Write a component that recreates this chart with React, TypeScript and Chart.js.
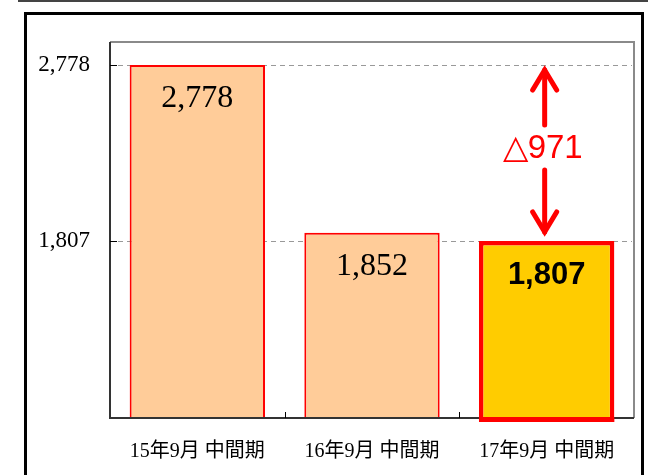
import React, { useEffect, useRef } from "react";
import { Chart, registerables } from "chart.js";
Chart.register(...registerables);

const categories = ["15年9月 中間期", "16年9月 中間期", "17年9月 中間期"];
const values = [2778, 1852, 1807];
const valueLabels = ["2,778", "1,852", "1,807"];
const yTicks = [1807, 2778];
const yTickLabels: Record<number, string> = { 1807: "1,807", 2778: "2,778" };
const diffLabel = "△971";
const axisMin = 830;
const axisMax = 2905;
const fills = ["#FFCC99", "#FFCC99", "#FFCC00"];
const borderWidths = [2, 2, 4.5];

const decor = {
  id: "decor",
  beforeDraw(chart: any) {
    const ctx = chart.ctx;
    ctx.save();
    ctx.fillStyle = "#fff";
    ctx.fillRect(0, 0, chart.width, chart.height);
    ctx.strokeStyle = "#444";
    ctx.lineWidth = 2;
    ctx.beginPath();
    ctx.moveTo(18, 1);
    ctx.lineTo(648, 1);
    ctx.stroke();
    ctx.strokeStyle = "#000";
    ctx.lineWidth = 3;
    ctx.beginPath();
    ctx.moveTo(25.5, 480);
    ctx.lineTo(25.5, 13.5);
    ctx.lineTo(642.5, 13.5);
    ctx.lineTo(642.5, 480);
    ctx.stroke();
    const { left, right } = chart.chartArea;
    const y = chart.scales.y;
    ctx.strokeStyle = "#999";
    ctx.lineWidth = 1;
    ctx.setLineDash([5, 4]);
    yTicks.forEach((v) => {
      const py = Math.round(y.getPixelForValue(v)) + 0.5;
      ctx.beginPath();
      ctx.moveTo(left + 8, py);
      ctx.lineTo(right - 2, py);
      ctx.stroke();
    });
    ctx.setLineDash([]);
    ctx.restore();
  },
  afterDatasetsDraw(chart: any) {
    const ctx = chart.ctx;
    const { left, right, top, bottom } = chart.chartArea;
    const x = chart.scales.x;
    const y = chart.scales.y;
    ctx.save();
    ctx.lineWidth = 2;
    ctx.strokeStyle = "#8a8a8a";
    ctx.beginPath();
    ctx.moveTo(left, top);
    ctx.lineTo(right, top);
    ctx.lineTo(right, bottom);
    ctx.stroke();
    ctx.strokeStyle = "#333";
    ctx.beginPath();
    ctx.moveTo(left, top);
    ctx.lineTo(left, bottom);
    ctx.lineTo(right, bottom);
    ctx.stroke();
    // thick bottom border of highlighted bar, hanging below the axis
    const meta = chart.getDatasetMeta(0);
    const b3 = meta.data[2];
    if (b3) {
      const half = b3.width / 2;
      ctx.fillStyle = "#FF0000";
      ctx.fillRect(b3.x - half, bottom - 1, b3.width, 5);
    }
    ctx.lineWidth = 1;
    ctx.strokeStyle = "#000";
    yTicks.forEach((v) => {
      const py = Math.round(y.getPixelForValue(v)) + 0.5;
      ctx.beginPath();
      ctx.moveTo(left, py);
      ctx.lineTo(left + 7, py);
      ctx.stroke();
    });
    for (let i = 0; i < categories.length - 1; i++) {
      const px = Math.round((x.getPixelForValue(i) + x.getPixelForValue(i + 1)) / 2) + 0.5;
      ctx.beginPath();
      ctx.moveTo(px, bottom);
      ctx.lineTo(px, bottom - 6);
      ctx.stroke();
    }
    ctx.textAlign = "center";
    ctx.textBaseline = "middle";
    ctx.fillStyle = "#000";
    values.forEach((v, i) => {
      const px = x.getPixelForValue(i);
      const py = y.getPixelForValue(v);
      if (i === values.length - 1) {
        ctx.font = "bold 31px 'Liberation Sans', Arial, sans-serif";
        ctx.fillText(valueLabels[i], px, py + 34);
      } else {
        ctx.font = "32px 'Liberation Serif', 'Times New Roman', serif";
        ctx.fillText(valueLabels[i], px, py + 34);
      }
    });
    const ax = x.getPixelForValue(2) - 2;
    const yA = y.getPixelForValue(values[0]) + 3;
    const yB = y.getPixelForValue(values[2]) - 7;
    const yMid = (yA + yB) / 2 - 2;
    ctx.strokeStyle = "#FF0000";
    ctx.fillStyle = "#FF0000";
    ctx.lineWidth = 5;
    ctx.lineCap = "round";
    ctx.lineJoin = "miter";
    ctx.beginPath();
    ctx.moveTo(ax, yA + 2);
    ctx.lineTo(ax, yMid - 24);
    ctx.moveTo(ax, yMid + 21);
    ctx.lineTo(ax, yB - 2);
    ctx.stroke();
    ctx.beginPath();
    ctx.moveTo(ax - 12, yA + 22);
    ctx.lineTo(ax, yA + 2);
    ctx.lineTo(ax + 12, yA + 22);
    ctx.moveTo(ax - 12, yB - 22);
    ctx.lineTo(ax, yB - 2);
    ctx.lineTo(ax + 12, yB - 22);
    ctx.stroke();
    ctx.font = "33px 'Liberation Sans', Arial, sans-serif";
    ctx.fillText(diffLabel, ax - 2, yMid);
    ctx.restore();
  },
};

export default function App() {
  const ref = useRef<HTMLCanvasElement | null>(null);
  useEffect(() => {
    document.body.style.margin = "0";
    const chart = new Chart(ref.current as HTMLCanvasElement, {
      type: "bar",
      data: {
        labels: categories,
        datasets: [
          {
            data: values,
            backgroundColor: fills,
            borderColor: "#FF0000",
            borderWidth: borderWidths,
            borderSkipped: false,
            barPercentage: 0.775,
            categoryPercentage: 1,
          },
        ],
      },
      options: {
        responsive: false,
        animation: false,
        devicePixelRatio: 1,
        layout: { padding: { top: 42, right: 14, left: 0, bottom: 0 } },
        plugins: { legend: { display: false }, tooltip: { enabled: false } },
        scales: {
          x: {
            grid: { display: false, drawTicks: false },
            border: { display: false },
            ticks: {
              color: "#000",
              padding: 22,
              font: { family: "'Liberation Serif', 'Noto Sans CJK JP', serif", size: 20 },
              maxRotation: 0,
            },
            afterFit: (s: any) => {
              s.height = 57;
            },
          },
          y: {
            min: axisMin,
            max: axisMax,
            grid: { display: false, drawTicks: false },
            border: { display: false },
            afterBuildTicks: (s: any) => {
              s.ticks = yTicks.map((v) => ({ value: v }));
            },
            ticks: {
              color: "#000",
              padding: 20,
              font: { family: "'Liberation Serif', 'Times New Roman', serif", size: 23 },
              callback: (v: any) => yTickLabels[v as number] ?? "",
            },
            afterFit: (s: any) => {
              s.width = 110;
            },
          },
        },
      },
      plugins: [decor],
    });
    return () => chart.destroy();
  }, []);
  return (
    <div style={{ position: "absolute", left: 0, top: 0, width: 648, height: 475 }}>
      <canvas ref={ref} width={648} height={475} />
    </div>
  );
}
